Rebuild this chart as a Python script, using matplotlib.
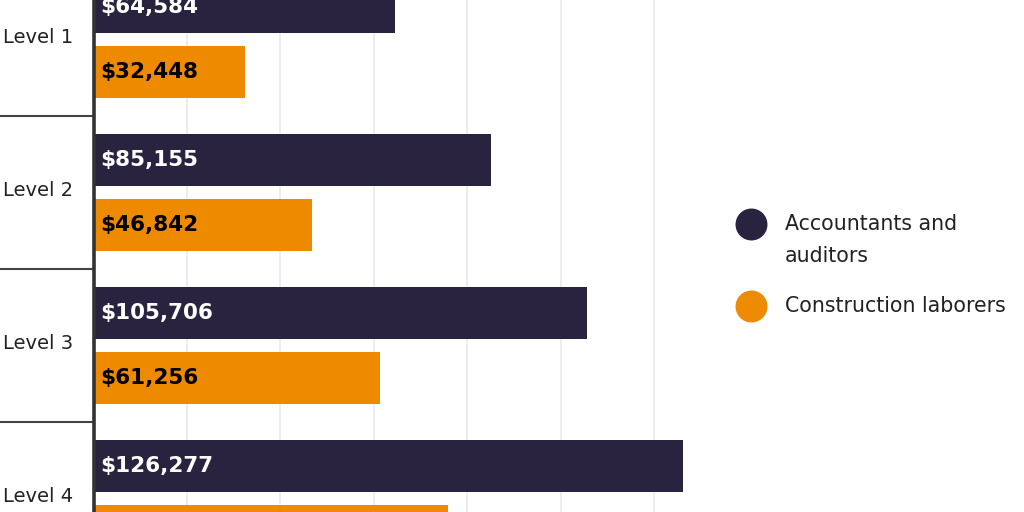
import numpy as np
import matplotlib
matplotlib.use("Agg")
import matplotlib.pyplot as plt
from matplotlib.lines import Line2D
from matplotlib.transforms import blended_transform_factory

# data
levels = ["Level 1", "Level 2", "Level 3", "Level 4"]
accountants = [64584, 85155, 105706, 126277]
laborers = [32448, 46842, 61256, 75900]  # last one is cut off in the picture
series_names = ["Accountants and\nauditors", "Construction laborers"]

NAVY = "#29233f"
ORANGE = "#ee8a00"

plt.rcParams['font.family'] = ['DejaVu Sans']

fig = plt.figure(figsize=(10.24, 5.12), dpi=100)
ax = fig.add_axes([93.6 / 1024, 0, 607 / 1024, 1])

y = np.arange(len(levels))
bar_h = 0.34
off = 0.212

ax.barh(y - off, accountants, height=bar_h, color=NAVY, zorder=3)
ax.barh(y + off, laborers, height=bar_h, color=ORANGE, zorder=3)

# value labels inside the bars
for yi, v in zip(y, accountants):
  ax.annotate(f"${v:,}", (0, yi - off), xytext=(5, 0), textcoords="offset points",
              va="center", ha="left", color="white", fontsize=15.5, fontweight="bold", zorder=4)
for yi, v in zip(y, laborers):
  ax.annotate(f"${v:,}", (0, yi + off), xytext=(5, 0), textcoords="offset points",
              va="center", ha="left", color="black", fontsize=15.5, fontweight="bold", zorder=4)

ax.set_xlim(0, 130000)
# group pitch is 153 px, first group centre ~39 px below the top edge
ax.set_ylim((512 - 39.5) / 153, -39.5 / 153)

ax.set_xticks(np.arange(20000, 130000, 20000))
ax.xaxis.grid(True, color="#ececec", linewidth=1.3, zorder=0)
ax.tick_params(axis="x", length=0, labelbottom=False)
ax.set_yticks(y - 0.028)
ax.set_yticklabels(levels, fontsize=14, color="#222222")
ax.tick_params(axis="y", length=0, pad=15)

for side in ["top", "right", "bottom"]:
  ax.spines[side].set_visible(False)
ax.spines["left"].set_color("#333333")
ax.spines["left"].set_linewidth(2.6)
ax.spines["left"].set_zorder(5)

# separators between levels, out in the label area
trans = blended_transform_factory(fig.transFigure, ax.transData)
for b in y[:-1] + 0.5:
  ax.add_line(Line2D([0, 93 / 1024], [b, b], transform=trans, color="#444444",
                     linewidth=1.5, clip_on=False))

# legend drawn by hand
colors = [NAVY, ORANGE]
legend_y = [240, 306]
for name, c, ly in zip(series_names, colors, legend_y):
  lines = name.split("\n")
  top = ly - (len(lines) - 1) * 16
  fig.add_artist(Line2D([751 / 1024], [1 - top / 512], marker="o", markersize=22,
                        color=c, linestyle="none", transform=fig.transFigure))
  for k, line in enumerate(lines):
    fig.text(785 / 1024, 1 - (top + 32 * k) / 512, line, fontsize=14.8,
             color="#222222", va="center", ha="left")

fig.savefig("out.png", dpi=100)
